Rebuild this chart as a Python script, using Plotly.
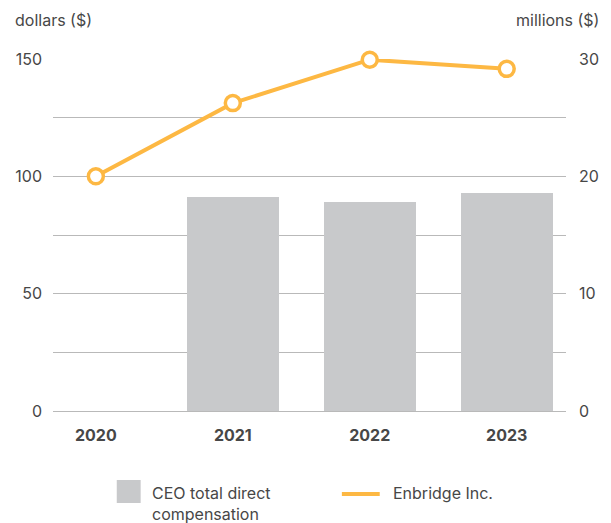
import plotly.graph_objects as go

# Data
years = ["2020", "2021", "2022", "2023"]
ceo_comp_millions = [None, 18.2, 17.8, 18.6]      # CEO total direct compensation (millions $)
enbridge_dollars = [100, 131.2, 149.7, 145.8]      # Enbridge Inc. indexed value (dollars $)
left_ticks = [0, 50, 100, 150]
right_ticks = [0, 10, 20, 30]

BAR_COLOR = "#c8c9cb"
LINE_COLOR = "#fdb843"
GRID_COLOR = "#b9b9b9"
TEXT_COLOR = "#474747"
FONT = "Inter, Liberation Sans, Arial, sans-serif"

W, H = 611, 523
ML, MR, MT, MB = 53, 43, 59, 112
PW, PH = W - ML - MR, H - MT - MB


def px(x):
    return (x - ML) / PW


def py(y):
    return (H - MB - y) / PH


fig = go.Figure()

fig.add_trace(go.Bar(
    x=years, y=ceo_comp_millions, yaxis="y",
    marker=dict(color=BAR_COLOR, line=dict(width=0)),
    width=0.67, name="CEO total direct compensation", showlegend=False,
    hoverinfo="skip",
))

fig.add_trace(go.Scatter(
    x=years, y=enbridge_dollars, yaxis="y2", mode="lines+markers",
    line=dict(color=LINE_COLOR, width=4),
    marker=dict(size=15, color="white", line=dict(color=LINE_COLOR, width=3.5)),
    name="Enbridge Inc.", showlegend=False, cliponaxis=False,
))

fig.update_layout(
    width=W, height=H,
    margin=dict(l=ML, r=MR, t=MT, b=MB),
    paper_bgcolor="white", plot_bgcolor="white",
    font=dict(family=FONT, color=TEXT_COLOR, size=16),
    bargap=0,
    xaxis=dict(
        type="category", range=[-0.313, 3.433],
        showgrid=False, zeroline=False, showline=False, ticks="",
        tickfont=dict(family=FONT, size=16, color=TEXT_COLOR, weight="bold"),
        ticklabelstandoff=13,
    ),
    # right axis (millions) carries the grid, drawn beneath the bars
    yaxis=dict(
        side="right", range=[0, 30],
        showgrid=True, gridcolor=GRID_COLOR, gridwidth=1,
        dtick=5, tickmode="linear", tick0=0,
        showticklabels=False,
        zeroline=True, zerolinecolor=GRID_COLOR, zerolinewidth=1,
        showline=False, ticks="",
    ),
    yaxis2=dict(
        overlaying="y", side="left", range=[0, 150], tickvals=left_ticks,
        showgrid=False, zeroline=False, showline=False, ticks="",
        tickfont=dict(family=FONT, size=16, color=TEXT_COLOR),
        ticklabelstandoff=10,
    ),
    yaxis3=dict(
        overlaying="y", side="right", range=[0, 30], tickvals=right_ticks,
        showgrid=False, zeroline=False, showline=False, ticks="",
        tickfont=dict(family=FONT, size=16, color=TEXT_COLOR),
        ticklabelstandoff=12,
    ),
    showlegend=False,
)

# invisible trace so the right-hand millions labels are drawn
fig.add_trace(go.Scatter(x=years, y=[None] * 4, yaxis="y3", showlegend=False, hoverinfo="skip"))

annotations = [
    dict(text="dollars ($)", x=px(13), y=py(20), xanchor="left", yanchor="middle"),
    dict(text="millions ($)", x=px(603), y=py(20), xanchor="right", yanchor="middle"),
    dict(text="CEO total direct<br>compensation", x=px(150), y=py(481), xanchor="left",
         yanchor="top", align="left"),
    dict(text="Enbridge Inc.", x=px(392), y=py(493), xanchor="left", yanchor="middle"),
]
for a in annotations:
    a.update(xref="paper", yref="paper", showarrow=False,
             font=dict(family=FONT, color=TEXT_COLOR, size=16))
fig.update_layout(annotations=annotations)

fig.update_layout(shapes=[
    dict(type="rect", xref="paper", yref="paper",
         x0=px(117), x1=px(141), y0=py(503), y1=py(480),
         fillcolor=BAR_COLOR, line=dict(width=0)),
    dict(type="line", xref="paper", yref="paper",
         x0=px(343), x1=px(381), y0=py(494), y1=py(494),
         line=dict(color=LINE_COLOR, width=4)),
])

fig.write_html("out.html")
